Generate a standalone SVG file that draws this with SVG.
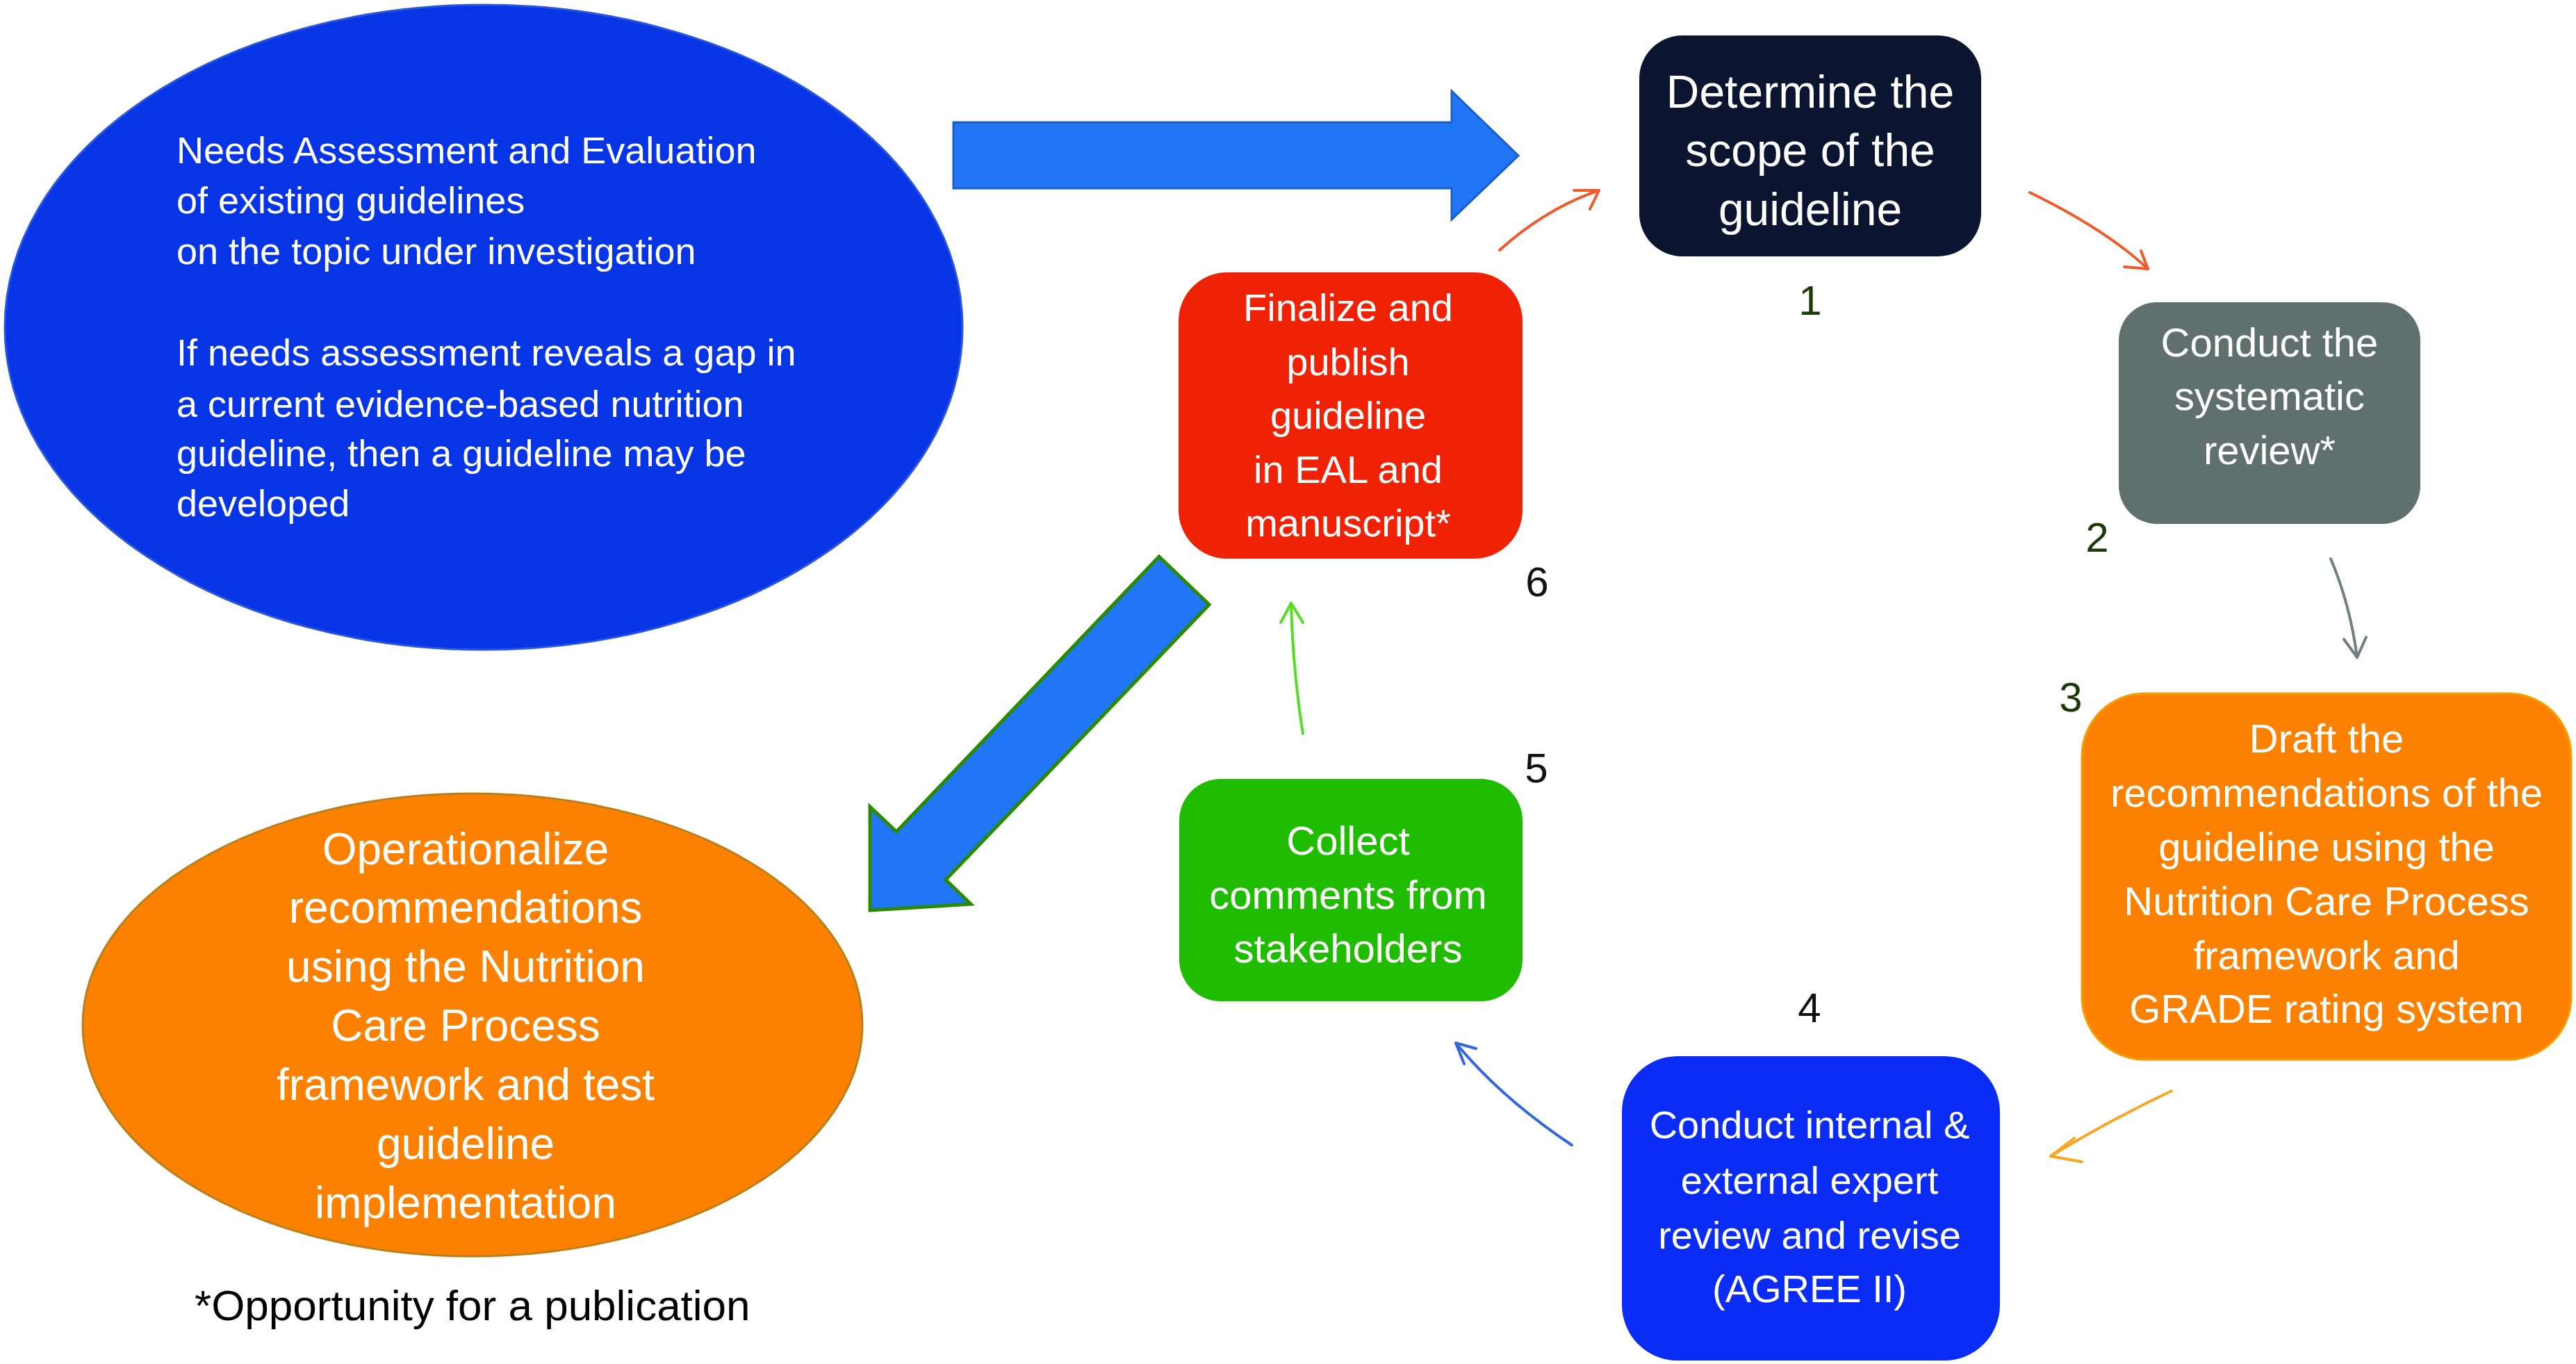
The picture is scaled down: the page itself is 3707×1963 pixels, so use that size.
<svg xmlns="http://www.w3.org/2000/svg" width="3707" height="1963" viewBox="0 0 3707 1963">
<style>
text{font-family:"Liberation Sans",Arial,sans-serif;}
.w{fill:#ffffff;}
.c{text-anchor:middle;}
.num{font-size:60px;}
.ng{fill:#1c3a05;}
.nb{fill:#111111;}
.con{fill:none;stroke-width:4;stroke-linecap:round;stroke-linejoin:round;}
</style>
<rect width="3707" height="1963" fill="#ffffff"/>
<g id="needs-assessment">
<ellipse cx="696" cy="471" rx="689" ry="464" fill="#0735e6" stroke="#2a55dd" stroke-width="3"/>
<text class="w" font-size="54" x="254"><tspan x="254" y="235">Needs Assessment and Evaluation</tspan><tspan x="254" y="307">of existing guidelines</tspan><tspan x="254" y="380">on the topic under investigation</tspan><tspan x="254" y="526">If needs assessment reveals a gap in</tspan><tspan x="254" y="600">a current evidence-based nutrition</tspan><tspan x="254" y="671">guideline, then a guideline may be</tspan><tspan x="254" y="743">developed</tspan></text>
</g>
<g id="operationalize">
<ellipse cx="680" cy="1475" rx="561" ry="333" fill="#fd8100" stroke="#b8801a" stroke-width="3"/>
<text class="w c" font-size="64"><tspan x="670" y="1244">Operationalize</tspan><tspan x="670" y="1328">recommendations</tspan><tspan x="670" y="1413">using the Nutrition</tspan><tspan x="670" y="1498">Care Process</tspan><tspan x="670" y="1583">framework and test</tspan><tspan x="670" y="1668">guideline</tspan><tspan x="670" y="1753">implementation</tspan></text>
</g>
<g id="footnote">
<text font-size="62" x="280" y="1900" fill="#000000">*Opportunity for a publication</text>
</g>
<g id="node1">
<rect x="2359" y="51" width="492" height="318" rx="62" fill="#0b1530"/>
<text class="w c" font-size="66"><tspan x="2605" y="155">Determine the</tspan><tspan x="2605" y="239">scope of the</tspan><tspan x="2605" y="324">guideline</tspan></text>
<text class="num ng c" x="2605" y="453">1</text>
</g>
<g id="node2">
<rect x="3049" y="435" width="434" height="319" rx="55" fill="#5f706d"/>
<text class="w c" font-size="58"><tspan x="3266" y="513">Conduct the</tspan><tspan x="3266" y="590">systematic</tspan><tspan x="3266" y="668">review*</tspan></text>
<text class="num ng c" x="3018" y="794">2</text>
</g>
<g id="node3">
<rect x="2996" y="998" width="704" height="527" rx="90" fill="#fd8100" stroke="#f2a000" stroke-width="3"/>
<text class="w c" font-size="58"><tspan x="3348" y="1083">Draft the</tspan><tspan x="3348" y="1161">recommendations of the</tspan><tspan x="3348" y="1239">guideline using the</tspan><tspan x="3348" y="1317">Nutrition Care Process</tspan><tspan x="3348" y="1395">framework and</tspan><tspan x="3348" y="1472">GRADE rating system</tspan></text>
<text class="num ng c" x="2980" y="1024">3</text>
</g>
<g id="node4">
<rect x="2334" y="1520" width="544" height="438" rx="80" fill="#0b2cf5"/>
<text class="w c" font-size="56"><tspan x="2604" y="1638">Conduct internal &amp;</tspan><tspan x="2604" y="1718">external expert</tspan><tspan x="2604" y="1797">review and revise</tspan><tspan x="2604" y="1874">(AGREE II)</tspan></text>
<text class="num nb c" x="2604" y="1471">4</text>
</g>
<g id="node5">
<rect x="1697" y="1121" width="494" height="320" rx="60" fill="#20bc00"/>
<text class="w c" font-size="58"><tspan x="1940" y="1230">Collect</tspan><tspan x="1940" y="1308">comments from</tspan><tspan x="1940" y="1385">stakeholders</tspan></text>
<text class="num nb c" x="2211" y="1126">5</text>
</g>
<g id="node6">
<rect x="1696" y="392" width="495" height="412" rx="70" fill="#ef2205"/>
<text class="w c" font-size="56"><tspan x="1940" y="462">Finalize and</tspan><tspan x="1940" y="540">publish</tspan><tspan x="1940" y="617">guideline</tspan><tspan x="1940" y="695">in EAL and</tspan><tspan x="1940" y="772">manuscript*</tspan></text>
<text class="num nb c" x="2212" y="858">6</text>
</g>
<g id="connectors">
<polygon points="1372,176 2089,176 2089,131 2185,224 2089,316 2089,271 1372,271" fill="#2176f5" stroke="#1a5cc8" stroke-width="3"/>
<polygon points="1668,801 1290,1197 1252,1161 1252,1310 1397,1301 1361,1266 1740,870" fill="#2176f5" stroke="#2a8a00" stroke-width="5" stroke-linejoin="miter"/>
<path class="con" stroke="#f05a28" d="M2158,360 Q2225,300 2301,274"/>
<polyline class="con" stroke="#f05a28" points="2265,274 2301,274 2288,301"/>
<path class="con" stroke="#f05a28" d="M2921,277 Q3030,330 3091,387"/>
<polyline class="con" stroke="#f05a28" points="3057,384 3091,387 3081,361"/>
<path class="con" stroke="#6e8080" d="M3354,804 Q3382,870 3392,946"/>
<polyline class="con" stroke="#6e8080" points="3373,920 3392,946 3405,917"/>
<path class="con" stroke="#f5a623" d="M3125,1570 Q3040,1610 2951,1664"/>
<polyline class="con" stroke="#f5a623" points="2985,1638 2951,1664 2996,1672"/>
<path class="con" stroke="#3366e0" d="M2262,1648 Q2160,1580 2095,1501"/>
<polyline class="con" stroke="#3366e0" points="2124,1509 2095,1501 2107,1531"/>
<path class="con" stroke="#55dd22" d="M1875,1056 Q1860,960 1858,868"/>
<polyline class="con" stroke="#55dd22" points="1843,896 1858,868 1875,896"/>
</g>
</svg>
